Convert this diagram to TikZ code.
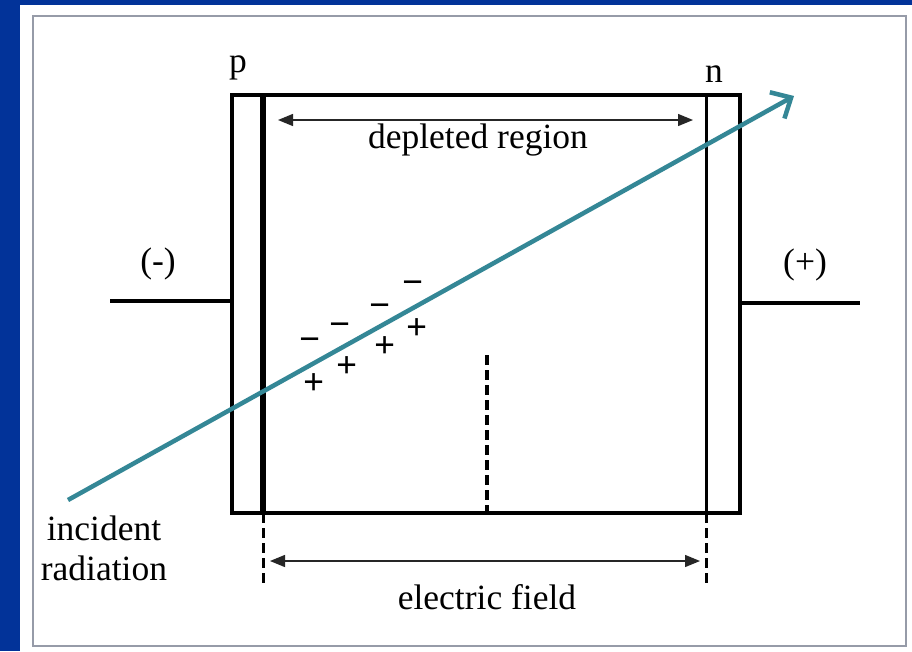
\documentclass[tikz,border=0pt]{standalone}
\usepackage{fontspec}
\setmainfont{Liberation Serif}
\usetikzlibrary{arrows.meta}
\definecolor{bgblue}{RGB}{2,51,153}
\definecolor{raycol}{RGB}{52,135,150}
\definecolor{framecol}{RGB}{150,155,168}
\begin{document}
\begin{tikzpicture}[x=1pt,y=-1pt,
  lbl/.style={font=\fontsize{35.5}{40}\selectfont, inner sep=0pt},
  chg/.style={font=\fontsize{37}{40}\selectfont\bfseries, inner sep=0pt},
  thick box/.style={line width=4.5pt},
  dim arrow/.style={line width=1.3pt, draw=black!85, {Triangle[length=15pt,width=12pt]}-{Triangle[length=15pt,width=12pt]}},
  dashline/.style={line width=3.5pt, dash pattern=on 10pt off 5pt}]
\fill[bgblue] (0,0) rectangle (912,651);
\useasboundingbox (0,0) rectangle (912,651);
\fill[white] (20,5) rectangle (912,651);
\draw[framecol, line width=2pt] (33,16) rectangle (906,646);

% device
\coordinate (tl) at (232,95);
\coordinate (br) at (740,513);
\coordinate (pt) at (263,95);
\coordinate (pb) at (263,513);
\coordinate (nt) at (706,95);
\coordinate (nb) at (706,513);
\draw[thick box] (tl) rectangle (br);
\draw[line width=5.5pt] (pt) -- (pb);
\draw[line width=3pt] (nt) -- (nb);

% wires
\coordinate (wl0) at (110,301);
\coordinate (wl1) at (232,301);
\coordinate (wr0) at (740,303);
\coordinate (wr1) at (860,303);
\draw[line width=4pt] (wl0) -- (wl1);
\draw[line width=4pt] (wr0) -- (wr1);

% labels
\node[lbl] (p) at (238,68) {p};
\node[lbl] (n) at (714,74) {n};
\node[lbl] (minus) at (158,264) {(-)};
\node[lbl] (plus) at (805,265) {(+)};
\node[lbl] (dep) at (478,140) {depleted region};
\node[lbl] (ef) at (487,597) {electric field};
\node[lbl, align=center] (inc) at (104,548) {incident\\radiation};

% dimension arrows
\coordinate (d0) at (278,120);
\coordinate (d1) at (693,120);
\draw[dim arrow] (d0) -- (d1);
\coordinate (e0) at (270,561);
\coordinate (e1) at (700,561);
\draw[dim arrow] (e0) -- (e1);

% dashed lines
\coordinate (pd) at (263,587);
\coordinate (nd) at (706,587);
\draw[dashline, line width=3pt] (pb) -- (pd);
\draw[dashline, line width=3pt] (nb) -- (nd);
\coordinate (m0) at (487,355);
\coordinate (m1) at (487,513);
\draw[dashline] (m0) -- (m1);

% radiation
\coordinate (r0) at (68,500);
\coordinate (r1) at (794,96);
\draw[raycol, line width=4.5pt, -{Straight Barb[length=16pt,width=30pt,line width=4.5pt]}] (r0) -- (r1);

% charges
\node[chg] (m1c) at (310,345) {−};
\node[chg] (m2c) at (340,330) {−};
\node[chg] (m3c) at (380,311) {−};
\node[chg] (m4c) at (413,288) {−};
\node[chg] (p1c) at (314,384) {+};
\node[chg] (p2c) at (347,367) {+};
\node[chg] (p3c) at (385,347) {+};
\node[chg] (p4c) at (417,329) {+};
\end{tikzpicture}
\end{document}
